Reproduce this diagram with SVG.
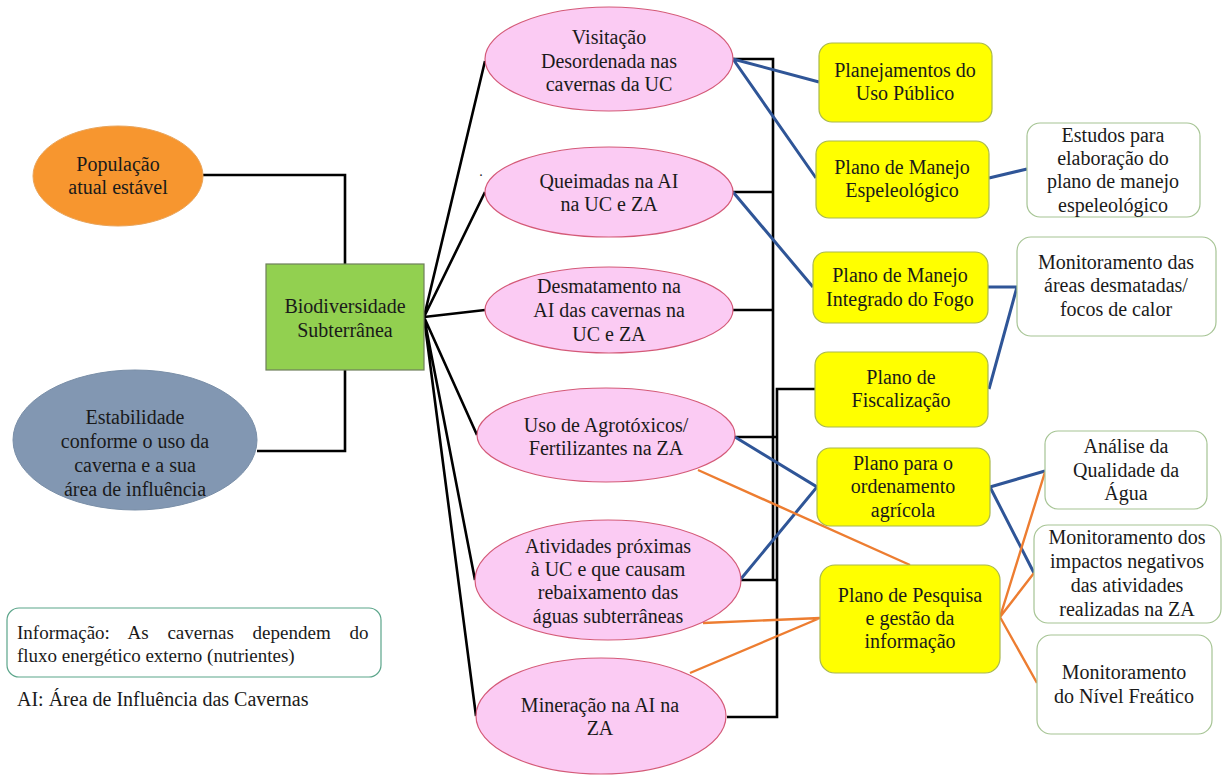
<svg xmlns="http://www.w3.org/2000/svg" width="1227" height="776" viewBox="0 0 1227 776" font-family="'Liberation Serif', 'DejaVu Serif', serif">
<style>
text{font-family:'Liberation Serif','DejaVu Serif',serif;font-size:20px;fill:#1a1a1a;text-anchor:middle}
.pink{fill:#FBCBF3;stroke:#D45A78;stroke-width:1.2}
.yel{fill:#FFFF00;stroke:#A9B84E;stroke-width:1.2}
.wht{fill:#FFFFFF;stroke:#A6C494;stroke-width:1.2}
.blk{fill:none;stroke:#000;stroke-width:2.6}
.blu{fill:none;stroke:#2F5597;stroke-width:3}
.org{fill:none;stroke:#ED7D31;stroke-width:2.4}
</style>
<rect width="1227" height="776" fill="#fff"/>
<g id="connectors">
  <path class="blk" d="M203,175 H345 V264 M345,370 V451 H257"/>
  <path class="blk" d="M424,317 L485,61 M424,317 L485,192 M424,317 L485,310 M424,317 L477,435 M424,317 L475,580 M424,317 L476,716"/>
  <path class="blk" d="M733,59 H773 V580 M733,192 H773 M733,310 H773 M735,437 H777 M740,580 H777 M727,717 H777 V389 H815"/>
  <path class="blu" d="M733,59 L819,82 M733,59 L816,178 M733,192 L813,287 M989,178 L1027,169 M988,287 H1017 L989,389 M735,437 L817,487 L740,580 M990,487 L1045,471 M990,487 L1034,573"/>
  <path class="org" d="M698,470 L910,565 M703,623 L820,618 L690,673 M1000,617 L1045,472 M1000,617 L1034,573 M1000,617 L1037,683"/>
</g>
<g id="populacao">
  <ellipse cx="118" cy="176" rx="85" ry="50" fill="#F7962F" stroke="#E9A45A" stroke-width="1"/>
  <text x="118" y="171">População</text>
  <text x="118" y="194">atual estável</text>
</g>
<g id="biodiversidade">
  <rect x="266" y="264" width="158" height="106" fill="#92D050" stroke="#6E7F5A" stroke-width="1.2"/>
  <text x="345" y="313">Biodiversidade</text>
  <text x="345" y="337">Subterrânea</text>
</g>
<g id="estabilidade">
  <ellipse cx="135" cy="440" rx="122" ry="70" fill="#8297B2" stroke="#7A8FA8" stroke-width="1"/>
  <text x="135" y="424">Estabilidade</text>
  <text x="135" y="448">conforme o uso da</text>
  <text x="135" y="472">caverna e a sua</text>
  <text x="135" y="496">área de influência</text>
</g>
<g id="info">
  <rect x="7" y="608" width="374" height="69" rx="12" fill="#fff" stroke="#5BA58A" stroke-width="1.2"/>
  <text x="17" y="639" style="text-anchor:start;font-size:19px;word-spacing:14px">Informação: As cavernas dependem do</text>
  <text x="17" y="662" style="text-anchor:start;font-size:19px">fluxo energético externo (nutrientes)</text>
</g>
<g id="legenda">
  <text x="17" y="706" style="text-anchor:start">AI: Área de Influência das Cavernas</text>
</g>
<g id="visitacao">
  <ellipse class="pink" cx="609" cy="59" rx="124" ry="52"/>
  <text x="609" y="44">Visitação</text>
  <text x="609" y="68">Desordenada nas</text>
  <text x="609" y="91">cavernas da UC</text>
</g>
<g id="queimadas">
  <ellipse class="pink" cx="609" cy="192" rx="124" ry="45"/>
  <text x="609" y="188">Queimadas na AI</text>
  <text x="609" y="211">na UC  e ZA</text>
  <text x="481" y="176" style="font-size:14px">.</text>
</g>
<g id="desmatamento">
  <ellipse class="pink" cx="609" cy="310" rx="124" ry="43"/>
  <text x="609" y="293">Desmatamento na</text>
  <text x="609" y="317">AI das cavernas na</text>
  <text x="609" y="341">UC  e ZA</text>
</g>
<g id="agrotoxicos">
  <ellipse class="pink" cx="606" cy="435" rx="129" ry="47"/>
  <text x="606" y="432">Uso de Agrotóxicos/</text>
  <text x="606" y="455">Fertilizantes  na ZA</text>
</g>
<g id="atividades">
  <ellipse class="pink" cx="608" cy="580" rx="133" ry="60"/>
  <text x="608" y="553">Atividades próximas</text>
  <text x="608" y="576">à UC  e que causam</text>
  <text x="608" y="599">rebaixamento das</text>
  <text x="608" y="623">águas subterrâneas</text>
</g>
<g id="mineracao">
  <ellipse class="pink" cx="601" cy="716" rx="125" ry="58"/>
  <text x="600" y="712">Mineração na AI na</text>
  <text x="600" y="735">ZA</text>
</g>
<g id="uso-publico">
  <rect class="yel" x="819" y="43" width="173" height="79" rx="13"/>
  <text x="905" y="77">Planejamentos do</text>
  <text x="905" y="100">Uso Público</text>
</g>
<g id="manejo-espeleo">
  <rect class="yel" x="816" y="141" width="173" height="77" rx="13"/>
  <text x="902" y="174">Plano de Manejo</text>
  <text x="902" y="197">Espeleológico</text>
</g>
<g id="manejo-fogo">
  <rect class="yel" x="813" y="252" width="175" height="71" rx="13"/>
  <text x="900" y="282">Plano de Manejo</text>
  <text x="900" y="306">Integrado do Fogo</text>
</g>
<g id="fiscalizacao">
  <rect class="yel" x="815" y="352" width="173" height="75" rx="13"/>
  <text x="901" y="384">Plano de</text>
  <text x="901" y="407">Fiscalização</text>
</g>
<g id="ordenamento">
  <rect class="yel" x="817" y="448" width="173" height="78" rx="13"/>
  <text x="903" y="470">Plano para o</text>
  <text x="903" y="493">ordenamento</text>
  <text x="903" y="517">agrícola</text>
</g>
<g id="pesquisa">
  <rect class="yel" x="820" y="565" width="180" height="108" rx="15"/>
  <text x="910" y="602">Plano de Pesquisa</text>
  <text x="910" y="625">e gestão da</text>
  <text x="910" y="648">informação</text>
</g>
<g id="estudos">
  <rect class="wht" x="1027" y="123" width="173" height="94" rx="13"/>
  <text x="1113" y="142">Estudos para</text>
  <text x="1113" y="165">elaboração do</text>
  <text x="1113" y="188">plano de manejo</text>
  <text x="1113" y="212">espeleológico</text>
</g>
<g id="monit-desmatadas">
  <rect class="wht" x="1017" y="237" width="199" height="99" rx="14"/>
  <text x="1116" y="269">Monitoramento das</text>
  <text x="1116" y="292">áreas desmatadas/</text>
  <text x="1116" y="316">focos de calor</text>
</g>
<g id="qualidade-agua">
  <rect class="wht" x="1045" y="431" width="162" height="78" rx="13"/>
  <text x="1126" y="453">Análise da</text>
  <text x="1126" y="477">Qualidade da</text>
  <text x="1126" y="500">Água</text>
</g>
<g id="monit-impactos">
  <rect class="wht" x="1034" y="525" width="187" height="98" rx="14"/>
  <text x="1127" y="544">Monitoramento dos</text>
  <text x="1127" y="568">impactos negativos</text>
  <text x="1127" y="592">das atividades</text>
  <text x="1127" y="616">realizadas na ZA</text>
</g>
<g id="nivel-freatico">
  <rect class="wht" x="1037" y="635" width="175" height="99" rx="14"/>
  <text x="1124" y="679">Monitoramento</text>
  <text x="1124" y="703">do Nível Freático</text>
</g>
</svg>
